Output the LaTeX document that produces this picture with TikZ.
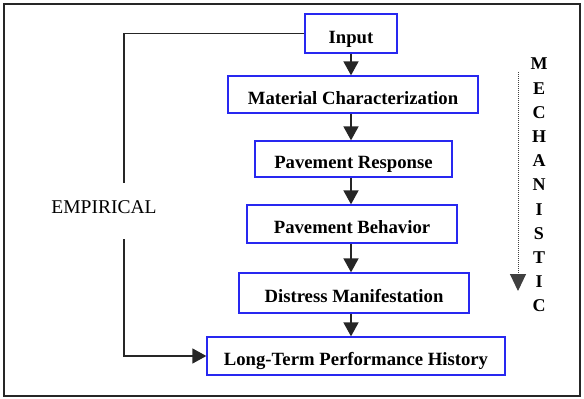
\documentclass[tikz,border=0pt]{standalone}
\usepackage{fontspec}
\setmainfont{Liberation Serif}
\usetikzlibrary{arrows.meta}
\definecolor{boxblue}{RGB}{40,40,240}
\begin{document}
\begin{tikzpicture}[x=1pt,y=-1pt,
  box/.style={draw=boxblue, line width=1.3pt, fill=white, inner sep=0pt,
    text height=19pt, text depth=0pt,
    font=\fontsize{18.7}{20}\selectfont\bfseries},
  conn/.style={draw=black!85, line width=1.8pt},
  arr/.style={conn, -{Triangle[width=15pt,length=14pt]}},
  frame/.style={draw=black!85, line width=2pt}
]
\useasboundingbox (0,0) rectangle (584,399);
\draw[frame] (4,4) rectangle (580,396);

\node[box, minimum width=92pt,  minimum height=39pt] (inp)  at (351,33.5) {Input};
\node[box, minimum width=250pt, minimum height=37pt] (mat)  at (353,94.5) {Material Characterization};
\node[box, minimum width=197pt, minimum height=36pt] (resp) at (353.5,159) {Pavement Response};
\node[box, minimum width=210pt, minimum height=38pt] (beh)  at (352,224) {Pavement Behavior};
\node[box, minimum width=230pt, minimum height=40pt] (dis)  at (354,293) {Distress Manifestation};
\node[box, minimum width=298pt, minimum height=38pt] (lt)   at (356,356) {Long-Term Performance History};

\draw[arr] (inp.south) -- (inp.south |- mat.north);
\draw[arr] (mat.south -| inp.south) -- (inp.south |- resp.north);
\draw[arr] (resp.south -| inp.south) -- (inp.south |- beh.north);
\draw[arr] (beh.south -| inp.south) -- (inp.south |- dis.north);
\draw[arr] (dis.south -| inp.south) -- (inp.south |- lt.north);

\node[font=\fontsize{19.5}{20}\selectfont] (emp) at (104,207) {EMPIRICAL};
\coordinate (g1) at (124,183);
\coordinate (g2) at (124,239);
\draw[conn, line width=1.5pt] (inp.west) -| (g1);
\draw[arr, line width=1.5pt] (g2) |- (lt.west);

\node[align=center, font=\fontsize{18}{24.2}\selectfont\bfseries] (mech) at (539,185)
  {M\\E\\C\\H\\A\\N\\I\\S\\T\\I\\C};
\coordinate (d1) at (518,72);
\coordinate (d2) at (518,291);
\draw[densely dotted, draw=black!75, line width=1pt,
  -{Triangle[width=16pt,length=17pt]}] (d1) -- (d2);
\end{tikzpicture}
\end{document}
